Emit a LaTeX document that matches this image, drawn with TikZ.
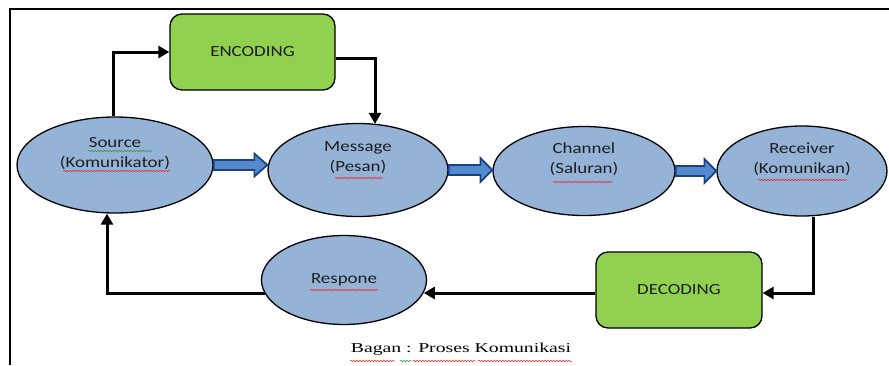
\documentclass[tikz,border=0pt]{standalone}
\usepackage{fontspec}
\setmainfont{Carlito}
\newfontfamily\capfont{Liberation Serif}
\usepackage{graphicx}
\usetikzlibrary{arrows.meta,calc,shapes.geometric,decorations.pathmorphing}
\newcommand\sx[1]{\scalebox{1.22}[1]{#1}}
\newcommand\cx[1]{\scalebox{1.45}[1]{#1}}
\definecolor{ellfill}{RGB}{149,179,215}
\definecolor{boxfill}{RGB}{146,208,80}
\definecolor{barrfill}{RGB}{83,138,206}
\definecolor{barrdraw}{RGB}{28,64,128}
\definecolor{txt}{RGB}{30,30,30}
\definecolor{spellred}{RGB}{230,40,40}
\definecolor{spellgreen}{RGB}{40,160,60}
\tikzset{
  ell/.style={ellipse, draw=black, line width=1.3pt, fill=ellfill, inner sep=0pt,
    text=txt, align=center, font=\fontsize{15.5}{20}\selectfont},
  gbox/.style={rectangle, rounded corners=12pt, draw=black, line width=1.3pt, fill=boxfill,
    inner sep=0pt, text=txt, font=\fontsize{15.5}{20}\selectfont},
  flow/.style={draw=black, line width=3pt, -{Triangle[length=11pt,width=12pt]}},
  blockarr/.style={fill=barrfill, draw=barrdraw, line width=1.7pt, line join=miter},
  frameline/.style={draw=black, line width=1.6pt},
  squig/.style={draw=#1, line width=0.5pt, decorate,
    decoration={snake, amplitude=0.8pt, segment length=3pt}}
}
\begin{document}
\begin{tikzpicture}[x=1pt,y=-1pt]
\useasboundingbox (0,0) rectangle (889,365);
% frame
\coordinate (fl) at (10,365);
\coordinate (ft) at (10,9);
\coordinate (fr) at (889,9);
\draw[frameline] (fl) -- (ft) -- (fr);
% nodes
\node[ell, minimum width=196pt, minimum height=96pt] (src) at (115,165)
  {\sx{Source}\\\sx{(Komunikator)}\\\strut};
\node[ell, minimum width=180pt, minimum height=93pt] (msg) at (358,170)
  {\sx{Message}\\\sx{(Pesan)}\\\strut};
\node[ell, minimum width=182pt, minimum height=89pt] (chn) at (584,171)
  {\sx{Channel}\\\sx{(Saluran)}\\\strut};
\node[ell, minimum width=170pt, minimum height=90pt] (rcv) at (802,171)
  {\sx{Receiver}\\\sx{(Komunikan)}\\\strut};
\node[ell, minimum width=165pt, minimum height=89pt] (rsp) at (344,280)
  {\sx{Respone}};
\node[gbox, minimum width=165pt, minimum height=76pt] (enc) at (252.5,52) {\sx{ENCODING}};
\node[gbox, minimum width=166pt, minimum height=76pt] (dec) at (679,290) {\sx{DECODING}};
\node[font=\capfont\fontsize{13.6}{16}\selectfont, text=black] (cap) at (461,349)
  {\cx{Bagan : Proses Komunikasi}};
% spell-check squiggles
\draw[squig=spellgreen] ($(src)+(-27,-14)$) -- ++(64,0);
\draw[squig=spellred] ($(src)+(-52,6)$) -- ++(107,0);
\draw[squig=spellred] ($(msg)+(-23,8)$) -- ++(48,0);
\draw[squig=spellred] ($(chn)+(-31,11)$) -- ++(60,0);
\draw[squig=spellred] ($(rcv)+(-44,9)$) -- ++(89,0);
\draw[squig=spellred] ($(rsp)+(-34,10)$) -- ++(68,0);
\draw[squig=spellred] ($(cap)+(-111,12)$) -- ++(45,0);
\draw[squig=spellgreen] ($(cap)+(-61,12)$) -- ++(12,0);
\draw[squig=spellred] ($(cap)+(-48,12)$) -- ++(62,0);
\draw[squig=spellred] ($(cap)+(17,12)$) -- ++(94,0);
% black flow connectors
\draw[flow] ([xshift=-2pt]src.north) |- (enc.west);
\draw[flow] ([yshift=-6pt]enc.east) -| ([xshift=17pt,yshift=-1pt]msg.north);
\draw[flow] ([xshift=11pt]rcv.south) |- ([yshift=-3pt]dec.east);
\draw[flow] ([yshift=-3pt]dec.west) -- ([yshift=-3pt]dec.west -| rsp.-9);
\draw[flow] (rsp.190) -| ([xshift=-8pt]src.south);
% block arrows
\path[blockarr] let \p1=(src.east), \p2=(msg.west) in
  (\x1,\y1+5) -- (\x2-13,\y1+5) -- (\x2-13,\y1+11.5) -- (\x2,\y1) -- (\x2-13,\y1-11.5)
  -- (\x2-13,\y1-5) -- (\x1,\y1-5) -- cycle;
\path[blockarr] let \p1=(msg.east), \p2=(chn.west) in
  (\x1,\y1+5) -- (\x2-12,\y1+5) -- (\x2-12,\y1+12) -- (\x2,\y1) -- (\x2-12,\y1-12)
  -- (\x2-12,\y1-5) -- (\x1,\y1-5) -- cycle;
\path[blockarr] let \p1=(chn.east), \p2=(rcv.west) in
  (\x1,\y1+5) -- (\x2-12,\y1+5) -- (\x2-12,\y1+12) -- (\x2,\y1) -- (\x2-12,\y1-12)
  -- (\x2-12,\y1-5) -- (\x1,\y1-5) -- cycle;
\end{tikzpicture}
\end{document}
